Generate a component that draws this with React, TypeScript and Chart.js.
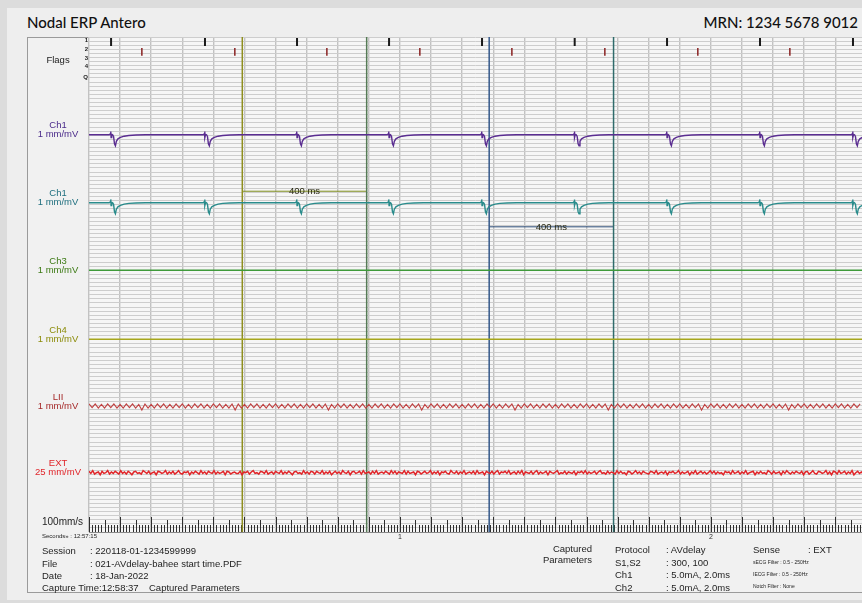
import React, { useEffect, useRef } from 'react';
import { Chart, registerables } from 'chart.js';

Chart.register(...registerables);

// ---------- data ----------
const X_MAX_MS = 2486; // visible time span (ms)
const Y_ROWS = 121; // fine grid rows (1 row = 1 mm)

const S1_TIMES = [71, 373, 669, 965, 1264, 1562, 1859, 2158, 2457]; // black flags / pacing
const S2_TIMES = [170, 469, 765, 1064, 1360, 1659, 1958, 2254]; // red flags
const EGM_OFFSETS = [-6, -2, -1, 0, 2, 5, 8, 11, 14, 17, 22, 30, 42, 57, 80, 110]; // ms after stimulus
const EGM_SHAPE = [0, 0.25, 0.8, -0.7, 0.1, 0, -0.4, -2.2, -2.7, -1.6, -1.0, -0.65, -0.35, -0.18, -0.07, 0];

const CURSOR_TIMES = [493, 893, 1287, 1687];
const MEASURE_START = [493, 1287];
const MEASURE_END = [893, 1687];
const MEASURE_TEXT = ['400 ms', '400 ms'];

const LII_STEP_MS = 10;
const LII_VALUES = [
  5, -4, 5, -5, 4, -5, 5, -4, 5, -5, 4, -5, 5, -4, 5, -5, 4, -10, 5, -5,
  4, -5, 5, -4, 5, -5, 4, -5, 5, -4, 5, -5, 4, -5, 5, -4, 5, -5, 4, -5,
  5, -4, 5, -5, 4, -5, 5, -10, 5, -5, 4, -5, 5, -4, 5, -5, 4, -5, 5, -4,
  5, -5, 4, -5, 5, -4, 5, -5, 4, -5, 5, -4, 5, -5, 4, -5, 5, -10, 4, -5,
  5, -4, 5, -5, 4, -5, 5, -4, 5, -5, 4, -5, 5, -4, 5, -5, 4, -5, 5, -4,
  5, -5, 4, -5, 5, -4, 5, -10, 4, -5, 5, -4, 5, -5, 4, -5, 5, -4, 5, -5,
  4, -5, 5, -4, 5, -5, 4, -5, 5, -4, 5, -5, 4, -5, 5, -4, 5, -10, 4, -5,
  5, -4, 5, -5, 4, -5, 5, -4, 5, -5, 4, -5, 5, -4, 5, -5, 4, -5, 5, -4,
  5, -5, 4, -5, 5, -4, 5, -10, 4, -5, 5, -4, 5, -5, 4, -5, 5, -4, 5, -5,
  4, -5, 5, -4, 5, -5, 4, -5, 5, -4, 5, -5, 4, -5, 5, -4, 5, -10, 4, -5,
  5, -4, 5, -5, 4, -5, 5, -4, 5, -5, 4, -5, 5, -4, 5, -5, 4, -5, 5, -4,
  5, -5, 4, -5, 5, -10, 4, -5, 5, -4, 5, -5, 4, -5, 5, -4, 5, -5, 4, -5,
  5, -4, 5, -5, 4, -5, 5, -4, 5,
];

const EXT_STEP_MS = 6;
const EXT_VALUES = [
  2, -1, 3, -2, 0, 1, -3, 2, -1, 0, 3, -2, 1, -1, 2, 0, -2, 3, -1, 1,
  -2, 2, 0, -3, 1, 2, -1, 0, -2, 3, 1, -1, 2, -2, 0, 1, -3, 2, 1, -1,
  0, 3, -2, 1, -1, 2, -2, 0, 3, -1, -2, 1, 0, 2, -3, 1, -1, 2, 0, -2,
  3, -1, 1, -2, 2, 0, -1, 3, -2, 1, -1, 0, 2, -3, 2, 1, -2, 0, 1, -1,
  -1, 2, -3, 1, 0, 2, -2, 1, 3, -1, 0, -2, 2, 1, -1, 3, -2, 0, 1, -2,
  2, 0, -1, 3, -2, 1, -1, 2, 0, -3, 1, 2, -1, 0, -2, 3, -1, 1, -2, 2,
  1, -2, 2, 0, -1, 3, -2, 1, -1, 2, -3, 0, 2, -1, 1, -2, 3, 0, -1, 2,
  -3, 1, 2, -1, 0, 2, -2, 3, -1, 0, 1, -2, 2, -1, 3, -2, 0, 1, -1, 2,
  0, -2, 3, -1, 2, -2, 1, 0, -1, 3, -2, 2, -1, 0, 1, -3, 2, 1, -2, 0,
  2, -1, 0, 3, -2, 1, -1, 2, -3, 1, 0, 2, -1, -2, 3, 0, -1, 2, -2, 1,
  -1, 3, -2, 0, 1, -1, 2, -2, 3, -1, 0, 1, -3, 2, 0, -1, 2, -2, 1, 3,
  -2, 1, 0, 2, -1, 3, -2, 0, 1, -2, 2, -1, 3, -3, 1, 0, -1, 2, -2, 1,
  3, -2, 1, -1, 0, 2, -3, 2, 0, -1, 1, 3, -2, 0, -1, 2, -2, 1, 0, -1,
  2, -3, 1, 0, 2, -1, 3, -2, 1, -1, 0, 2, -2, 1, 3, -1, 0, -2, 2, -1,
  1, 0, -2, 3, -1, 2, -1, 0, -3, 2, 1, -2, 0, 3, -1, 1, -2, 2, 0, -1,
  -2, 2, 1, -1, 3, -2, 0, 1, -1, 2, -3, 1, 0, 2, -1, 0, 3, -2, 1, -1,
  0, 2, -3, 1, -1, 3, -2, 0, 2, -1, 1, -2, 0, 3, -1, 2, -2, 1, -1, 0,
  -3, 2, 0, 1, -2, 3, -1, 0, 2, -2, 1, -1, 3, -2, 0, 1, 2, -3, 1, -1,
  2, -1, 0, -2, 3, 1, -2, 2, -1, 0, 1, -3, 2, -1, 3, 0, -2, 1, -1, 2,
  0, -1, 2, -3, 1, 2, -2, 0, 3, -1, -2, 2, 1, -1, 0, 3, -2, 1, -3, 2,
  1, -2, 3, -1, 0, 2, -2, 1, -1, 3, -3, 0, 2, -1, 1, -2, 2, 0, -1, 3,
];

const CHANNEL_NAMES = ['Ch1', 'Ch1', 'Ch3', 'Ch4', 'LII', 'EXT'];
const CHANNEL_GAINS = ['1 mm/mV', '1 mm/mV', '1 mm/mV', '1 mm/mV', '1 mm/mV', '25 mm/mV'];
const FLAG_ROW_LABELS = ['1', '2', '3', '4', 'Q'];
const SECOND_TICKS = [1000, 2000];
const SECOND_LABELS = ['1', '2'];

const INFO_LEFT = [
  ['Session', ': 220118-01-1234599999'],
  ['File', ': 021-AVdelay-bahee start time.PDF'],
  ['Date', ': 18-Jan-2022'],
];
const INFO_PARAMS = [
  ['Protocol', ': AVdelay'],
  ['S1,S2', ': 300, 100'],
  ['Ch1', ': 5.0mA, 2.0ms'],
  ['Ch2', ': 5.0mA, 2.0ms'],
];
const FILTERS = ['sECG Filter : 0.5 - 250Hz', 'IECG Filter : 0.5 - 250Hz', 'Notch Filter : None'];

// ---------- layout (grid-row positions) ----------
const CHANNEL_BASE = [23.9, 40.5, 57.0, 73.9, 90.2, 106.5];
const FLAGS_LABEL_POS = 5.6;
const FLAG_ROW_POS = [0.75, 2.9, 5.1, 7.1, 9.8];
const FLAG1_SPAN = [0.25, 2.2];
const FLAG2_SPAN = [2.7, 4.6];
const MEASURE_ROW = [37.7, 46.4];

// ---------- styles ----------
const SANS = '"Liberation Sans", Arial, sans-serif';
const TRACE_COLORS = ['#5a2d91', '#2a8c8c', '#3f9a3a', '#a6a61c', '#c04040', '#e0262a'];
const LABEL_COLORS = ['#222222', '#4a2a8a', '#1f6f7f', '#3c7a14', '#8c8c0a', '#a52a2a', '#e0252a'];
const CURSOR_COLORS = ['#8f8f1f', '#557a55', '#34588a', '#2f6b6b'];
const MEASURE_COLORS = ['#7d8c1c', '#2c4c78'];

function egmTrace(base: number) {
  const pts: any[] = [{ x: 0, y: base }];
  S1_TIMES.forEach((t) => {
    EGM_OFFSETS.forEach((o, i) => pts.push({ x: t + o, y: base - EGM_SHAPE[i] }));
  });
  pts.push({ x: X_MAX_MS, y: base });
  return pts;
}

function sampledTrace(values: number[], step: number, base: number, gain: number) {
  return values.map((v, i) => ({ x: i * step, y: base - v * gain }));
}

function flagMarks(times: number[], span: number[]) {
  const pts: any[] = [];
  times.forEach((t) => {
    pts.push({ x: t, y: span[0] }, { x: t, y: span[1] }, { x: t, y: null });
  });
  return pts;
}

function line(data: any[], color: string, width: number) {
  return {
    data,
    borderColor: color,
    borderWidth: width,
    pointRadius: 0,
    pointHoverRadius: 0,
    fill: false,
    tension: 0,
    spanGaps: false,
    xAxisID: 'x',
    yAxisID: 'y',
  };
}

const bgPlugin = {
  id: 'plotBg',
  beforeDraw(chart: any) {
    const { ctx, chartArea: a } = chart;
    ctx.save();
    ctx.fillStyle = '#f6f6f6';
    ctx.fillRect(a.left, a.top, a.right - a.left, a.bottom - a.top);
    ctx.restore();
  },
};

const RULER_STEP_MS = 10;
const rulerPlugin = {
  id: 'ruler',
  beforeDatasetsDraw(chart: any) {
    const { ctx, chartArea: a, scales } = chart;
    const x = scales.x;
    ctx.save();
    ctx.strokeStyle = '#2e2e2e';
    ctx.lineWidth = 1;
    for (let t = 0; t <= X_MAX_MS; t += RULER_STEP_MS) {
      const len = t % 100 === 0 ? 15 : t % 50 === 0 ? 12 : 7;
      const px = Math.round(x.getPixelForValue(t)) + 0.5;
      ctx.beginPath();
      ctx.moveTo(px, a.bottom);
      ctx.lineTo(px, a.bottom - len);
      ctx.stroke();
    }
    ctx.restore();
  },
};

const measurePlugin = {
  id: 'measureText',
  afterDatasetsDraw(chart: any) {
    const { ctx, scales } = chart;
    ctx.save();
    ctx.font = `9.5px ${SANS}`;
    ctx.fillStyle = '#2a2a14';
    ctx.textAlign = 'center';
    ctx.textBaseline = 'middle';
    MEASURE_TEXT.forEach((txt, i) => {
      const cx = (scales.x.getPixelForValue(MEASURE_START[i]) + scales.x.getPixelForValue(MEASURE_END[i])) / 2;
      const cy = scales.y.getPixelForValue(MEASURE_ROW[i]) + 0.5;
      ctx.fillText(txt, cx, cy);
    });
    ctx.restore();
  },
};

function ChartCanvas() {
  const ref = useRef<HTMLCanvasElement | null>(null);
  useEffect(() => {
    const canvas = ref.current;
    if (!canvas) return;
    const datasets: any[] = [
      line(flagMarks(S1_TIMES, FLAG1_SPAN), '#1a1a1a', 2),
      line(flagMarks(S2_TIMES, FLAG2_SPAN), '#8a2222', 1.5),
      line(egmTrace(CHANNEL_BASE[0]), TRACE_COLORS[0], 1.4),
      line(egmTrace(CHANNEL_BASE[1]), TRACE_COLORS[1], 1.4),
      line([{ x: 0, y: CHANNEL_BASE[2] }, { x: X_MAX_MS, y: CHANNEL_BASE[2] }], TRACE_COLORS[2], 1.4),
      line([{ x: 0, y: CHANNEL_BASE[3] }, { x: X_MAX_MS, y: CHANNEL_BASE[3] }], TRACE_COLORS[3], 1.5),
      line(sampledTrace(LII_VALUES, LII_STEP_MS, CHANNEL_BASE[4], 0.1), TRACE_COLORS[4], 1.1),
      line(sampledTrace(EXT_VALUES, EXT_STEP_MS, CHANNEL_BASE[5], 0.17), TRACE_COLORS[5], 1.5),
    ];
    CURSOR_TIMES.forEach((t, i) => {
      datasets.push(line([{ x: t, y: 0 }, { x: t, y: Y_ROWS }], CURSOR_COLORS[i], 1.5));
    });
    MEASURE_START.forEach((s, i) => {
      datasets.push(line([{ x: s, y: MEASURE_ROW[i] }, { x: MEASURE_END[i], y: MEASURE_ROW[i] }], MEASURE_COLORS[i], 1));
    });

    const labelTicks = [FLAGS_LABEL_POS, ...CHANNEL_BASE.map((b) => b - 1.1)];
    const labelTexts: any[] = ['Flags', ...CHANNEL_NAMES.map((n, i) => [n, CHANNEL_GAINS[i]])];

    const chart = new Chart(canvas, {
      type: 'line',
      data: { datasets },
      options: {
        animation: false,
        responsive: false,
        maintainAspectRatio: false,
        events: [],
        layout: { padding: 0 },
        plugins: { legend: { display: false }, tooltip: { enabled: false }, title: { display: false } },
        scales: {
          x: {
            type: 'linear',
            min: 0,
            max: X_MAX_MS,
            border: { display: true, color: '#8a8a8a', width: 1 },
            grid: {
              drawTicks: false,
              color: (c: any) => (c.tick && c.tick.value % 100 === 0 ? '#c2c2c2' : 'rgba(0,0,0,0)'),
              lineWidth: 1.4,
            },
            ticks: {
              stepSize: 100,
              autoSkip: false,
              maxRotation: 0,
              padding: 1,
              color: '#333',
              font: { size: 7, family: SANS },
              callback: (v: any) => {
                const k = SECOND_TICKS.indexOf(Number(v));
                return k >= 0 ? SECOND_LABELS[k] : '';
              },
            },
            afterFit: (s: any) => {
              s.height = 13;
              s.paddingLeft = 0;
              s.paddingRight = 0;
            },
          },
          y: {
            type: 'linear',
            position: 'left',
            weight: 0,
            min: 0,
            max: Y_ROWS,
            reverse: true,
            border: { display: false },
            grid: { drawTicks: false, color: '#cdcdcd', lineWidth: 1 },
            ticks: { display: false, stepSize: 1, autoSkip: false, maxTicksLimit: 1000 },
            afterFit: (s: any) => {
              s.width = 0;
              s.paddingTop = 0;
              s.paddingBottom = 0;
            },
          },
          yFlags: {
            type: 'linear',
            position: 'left',
            weight: 5,
            min: 0,
            max: Y_ROWS,
            reverse: true,
            border: { display: false },
            grid: { display: false, drawTicks: false },
            ticks: {
              autoSkip: false,
              padding: 1,
              color: '#222',
              font: { size: 6, weight: 'bold', family: SANS },
              callback: (_v: any, i: number) => FLAG_ROW_LABELS[i],
            },
            afterBuildTicks: (s: any) => {
              s.ticks = FLAG_ROW_POS.map((v) => ({ value: v }));
            },
            afterFit: (s: any) => {
              s.width = 6;
              s.paddingTop = 0;
              s.paddingBottom = 0;
            },
          },
          yLabels: {
            type: 'linear',
            position: 'left',
            weight: 10,
            min: 0,
            max: Y_ROWS,
            reverse: true,
            border: { display: false },
            grid: { display: false, drawTicks: false },
            ticks: {
              autoSkip: false,
              padding: 2,
              crossAlign: 'center',
              color: (c: any) => LABEL_COLORS[c.index] || '#222',
              font: { size: 9.5, family: SANS, lineHeight: 0.95 },
              callback: (_v: any, i: number) => labelTexts[i],
            },
            afterBuildTicks: (s: any) => {
              s.ticks = labelTicks.map((v) => ({ value: v }));
            },
            afterFit: (s: any) => {
              s.width = 56;
              s.paddingTop = 0;
              s.paddingBottom = 0;
            },
          },
        },
      } as any,
      plugins: [bgPlugin, rulerPlugin, measurePlugin],
    });
    return () => chart.destroy();
  }, []);
  return (
    <canvas
      ref={ref}
      width={835}
      height={508}
      style={{ position: 'absolute', left: 27, top: 37, width: 835, height: 508 }}
    />
  );
}

function Txt(props: any) {
  const { x, y, size = 9.5, align = 'left', color = '#1e1e1e', weight = 400, family = SANS, children } = props;
  const style: any = {
    position: 'absolute',
    top: y - size * 0.6,
    fontSize: size,
    lineHeight: `${size * 1.2}px`,
    whiteSpace: 'nowrap',
    color,
    fontWeight: weight,
    fontFamily: family,
  };
  if (align === 'right') style.right = 862 - x;
  else style.left = x;
  return <div style={style}>{children}</div>;
}

export default function App() {
  return (
    <div
      style={{
        position: 'fixed',
        left: 0,
        top: 0,
        width: 862,
        height: 603,
        overflow: 'hidden',
        background: '#dcdcdc',
        fontFamily: SANS,
      }}
    >
      <div style={{ position: 'absolute', left: 7, top: 8, right: 0, bottom: 3, background: '#eeeeee' }} />
      <div
        style={{
          position: 'absolute',
          left: 27,
          top: 13,
          fontFamily: 'Lato, "Open Sans", sans-serif',
          fontSize: 15,
          fontWeight: 500,
          lineHeight: '18px',
          color: '#111',
        }}
      >
        Nodal ERP Antero
      </div>
      <div
        style={{
          position: 'absolute',
          right: 4,
          top: 13,
          fontFamily: 'Lato, "Open Sans", sans-serif',
          fontSize: 15,
          fontWeight: 500,
          lineHeight: '18px',
          color: '#111',
        }}
      >
        MRN: 1234 5678 9012
      </div>
      <div
        style={{
          position: 'absolute',
          left: 27,
          top: 37,
          width: 845,
          height: 556,
          boxSizing: 'border-box',
          border: '1px solid #9a9a9a',
          background: '#f1f1f1',
        }}
      />
      <ChartCanvas />
      <Txt x={42} y={522} size={10}>100mm/s</Txt>
      <Txt x={42} y={537} size={6}>Seconds» : 12:57:15</Txt>
      {INFO_LEFT.map((r, i) => (
        <React.Fragment key={r[0]}>
          <Txt x={42} y={550.5 + i * 12.7}>{r[0]}</Txt>
          <Txt x={90} y={550.5 + i * 12.7}>{r[1]}</Txt>
        </React.Fragment>
      ))}
      <Txt x={42} y={588}>Capture Time:12:58:37</Txt>
      <Txt x={149} y={588}>Captured Parameters</Txt>
      <Txt x={592} y={549} align="right">Captured</Txt>
      <Txt x={592} y={560} align="right">Parameters</Txt>
      {INFO_PARAMS.map((r, i) => (
        <React.Fragment key={r[0] + i}>
          <Txt x={615} y={550 + i * 12.5}>{r[0]}</Txt>
          <Txt x={666} y={550 + i * 12.5}>{r[1]}</Txt>
        </React.Fragment>
      ))}
      <Txt x={753} y={550}>Sense</Txt>
      <Txt x={808} y={550}>: EXT</Txt>
      {FILTERS.map((f, i) => (
        <Txt key={f} x={753} y={561.5 + i * 12} size={5}>{f}</Txt>
      ))}
    </div>
  );
}
